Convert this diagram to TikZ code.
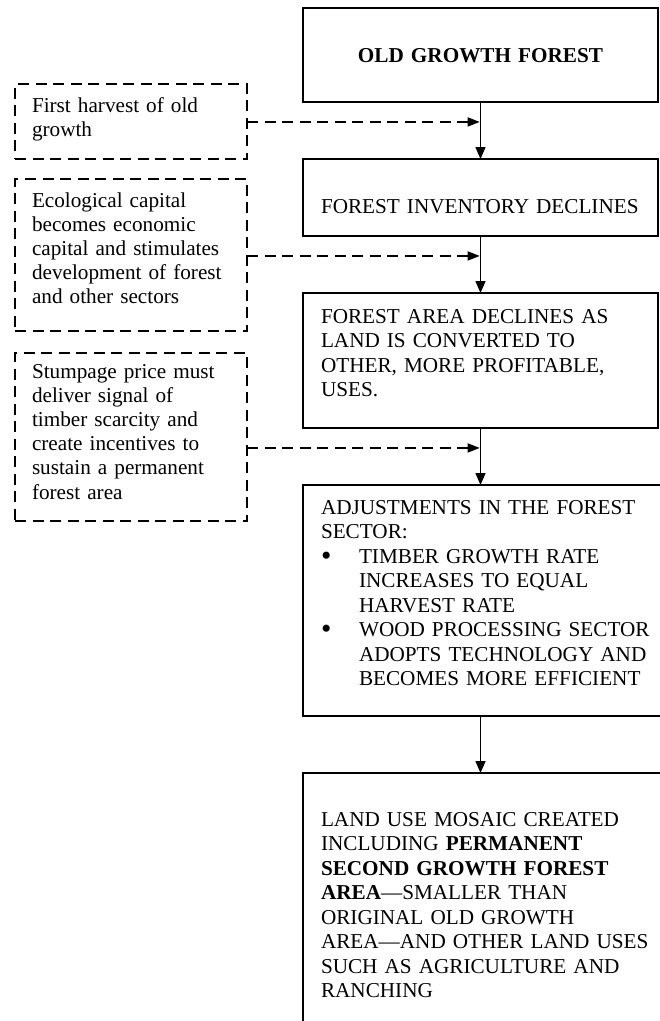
\documentclass[tikz,border=0pt]{standalone}
\usepackage{fontspec}
\setmainfont{Liberation Serif}
\usepackage{tikz}
\usetikzlibrary{positioning,arrows.meta,calc}

\newcommand{\bigbullet}{\makebox[38pt][l]{\raisebox{-2pt}{\scalebox{1.4}{\textbullet}}}}

\begin{document}
\begin{tikzpicture}[x=1pt,y=-1pt,
box/.style={
rectangle,draw,line width=1.6pt,outer sep=0pt,
inner xsep=18pt,inner ysep=0pt,
text width=319pt,align=left,
font=\fontsize{21.2pt}{24.5pt}\selectfont
},
note/.style={
rectangle,draw,line width=1.5pt,dash pattern=on 11pt off 6.5pt,outer sep=0pt,
inner xsep=17pt,inner ysep=0pt,
text width=198pt,align=left,
font=\fontsize{21.2pt}{24.2pt}\selectfont
},
arrow/.style={-{Triangle[length=12pt,width=10pt]},line width=1.5pt},
dasharrow/.style={-{Triangle[length=12pt,width=9pt]},line width=1.5pt,dash pattern=on 11pt off 6.5pt,shorten >=0.8pt}
]

\useasboundingbox (0,0) rectangle (660,1021);

\node[box,anchor=north west,align=center,text height=54pt,text depth=40pt] (oldgrowth) at (303,8) {\textbf{OLD GROWTH FOREST}};
\node[box,below=57pt of oldgrowth,text height=54pt,text depth=23pt] (inventory) {FOREST INVENTORY DECLINES};
\node[box,below=57pt of inventory,text height=30pt,text depth=105pt] (area) {FOREST AREA DECLINES AS\\LAND IS CONVERTED TO\\OTHER, MORE PROFITABLE,\\USES.};
\node[box,below right=57pt and 0pt of area.south west,text width=330pt,text height=29pt,text depth=202pt] (adjust) {ADJUSTMENTS IN THE FOREST\\SECTOR:\\
\bigbullet TIMBER GROWTH RATE\\
\hspace*{38pt}INCREASES TO EQUAL\\
\hspace*{38pt}HARVEST RATE\\
\bigbullet WOOD PROCESSING SECTOR\\
\hspace*{38pt}ADOPTS TECHNOLOGY AND\\
\hspace*{38pt}BECOMES MORE EFFICIENT};
\node[box,below=57pt of adjust,text width=330pt,text height=53pt,text depth=207pt] (mosaic) {LAND USE MOSAIC CREATED\\INCLUDING \textbf{PERMANENT}\\\textbf{SECOND GROWTH FOREST}\\\textbf{AREA}---SMALLER THAN\\ORIGINAL OLD GROWTH\\AREA---AND OTHER LAND USES\\SUCH AS AGRICULTURE AND\\RANCHING};

\node[note,anchor=north west,text height=28pt,text depth=47pt] (harvest) at (15,84) {First harvest of old\\growth};
\node[note,below=20pt of harvest,text height=28pt,text depth=124pt] (capital) {Ecological capital\\becomes economic\\capital and stimulates\\development of forest\\and other sectors};
\node[note,below=22pt of capital,text height=25pt,text depth=143pt] (stumpage) {Stumpage price must\\deliver signal of\\timber scarcity and\\create incentives to\\sustain a permanent\\forest area};

\coordinate (j1) at ($(oldgrowth.south)!0.35!(inventory.north)$);
\coordinate (j2) at ($(inventory.south)!0.35!(area.north)$);
\coordinate (j3) at ($(area.south)!0.35!(area.south |- adjust.north)$);

\draw[arrow] (oldgrowth.south) -- (inventory.north);
\draw[arrow] (inventory.south) -- (area.north);
\draw[arrow] (area.south) -- (area.south |- adjust.north);
\draw[arrow] (area.south |- adjust.south) -- (area.south |- mosaic.north);

\draw[dasharrow] (harvest.east |- j1) -- (j1);
\draw[dasharrow] (capital.east |- j2) -- (j2);
\draw[dasharrow] (stumpage.east |- j3) -- (j3);

\end{tikzpicture}
\end{document}
